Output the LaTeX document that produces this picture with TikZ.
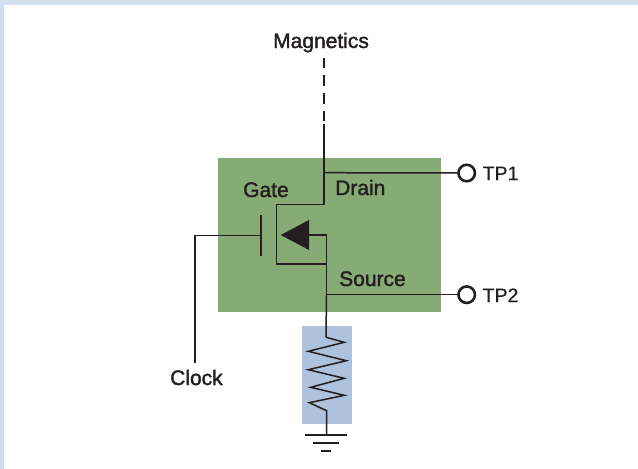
\documentclass[tikz,border=0pt]{standalone}
\usepackage{fontspec}
\setmainfont[FakeBold=0.4]{Liberation Sans}
\newfontfamily\medfont[FakeBold=1.6]{Liberation Sans}
\definecolor{ink}{HTML}{231F20}
\definecolor{frame}{HTML}{D2DFEE}
\definecolor{fet}{HTML}{87AB75}
\definecolor{res}{HTML}{AEC2DE}
\tikzset{
  wire/.style={draw=ink,line width=1.5pt},
  lbl/.style={text=ink,inner sep=0pt,anchor=base west,font=\medfont\fontsize{21}{24}\selectfont},
  tplbl/.style={text=ink,inner sep=0pt,anchor=base west,font=\fontsize{19.5}{24}\selectfont},
  tp/.style={circle,draw=ink,line width=2.6pt,fill=white,minimum size=16.5pt,inner sep=0pt},
  gnd/.style={draw=ink,line width=2.2pt}
}
\begin{document}
\begin{tikzpicture}[x=1pt,y=-1pt]
\useasboundingbox (0,0) rectangle (638,469);
\fill[white] (0,0) rectangle (638,469);
\fill[frame] (0,0) rectangle (638,5);
\fill[frame] (0,0) rectangle (4,469);
\fill[fet] (218,158) rectangle (441,312);
\fill[res] (302,326) rectangle (352,424);
\node[lbl] (magn) at (273,48) {Magnetics};
\node[lbl] (gate) at (243,197) {Gate};
\node[lbl] (drain) at (335,195) {Drain};
\node[lbl] (source) at (339,286) {Source};
\node[lbl] (clock) at (170,385) {Clock};
\node[tp] (tpa) at (466.7,173) {};
\node[tp] (tpb) at (466.7,294.7) {};
\node[tplbl] (tpal) at (482.5,180) {TP1};
\node[tplbl] (tpbl) at (482.5,302) {TP2};
\coordinate (dtop) at (324,57.5);
\coordinate (dend) at (324,122);
\coordinate (dsol) at (324,124);
\coordinate (dtap) at (324,172.7);
\coordinate (dknee) at (324,204.5);
\coordinate (chl) at (276.7,204.5);
\coordinate (chb) at (276.7,264);
\coordinate (stap) at (326.5,264);
\coordinate (sup) at (326.5,235);
\coordinate (tri) at (309,235);
\coordinate (stp) at (326.5,294.7);
\coordinate (rtop) at (326,337.3);
\coordinate (platet) at (261,215);
\coordinate (plateb) at (261,256);
\coordinate (gmid) at (261,235.3);
\coordinate (gknee) at (195,235.3);
\coordinate (gend) at (195,363);
\coordinate (rbot) at (326.7,410.7);
\coordinate (g1) at (326.7,435);
\draw[wire,dash pattern=on 10.8pt off 6.9pt] (dtop) -- (dend);
\draw[wire] (dsol) -- (dknee) -- (chl) -- (chb) -- (stap) -- (sup) -- (tri);
\draw[wire] (dtap) -- (tpa);
\draw[wire] (stap) -- (stp) -- (tpb);
\draw[wire] (stp) -- (rtop);
\draw[wire] (platet) -- (plateb);
\draw[wire] (gmid) -- (gknee) -- (gend);
\fill[ink] (280.7,235) -- (309,220) -- (309,250) -- cycle;
\draw[wire,line join=miter] (rtop) -- (344.3,342.3) -- (308.3,351.3) -- (346.3,360.7) -- (308.3,369.7) -- (344.3,378.3) -- (310.7,387.3) -- (344.3,395.3) -- (309.3,402.7) -- (rbot) -- (g1);
\draw[gnd] (305,435) -- (347,435);
\draw[gnd] (313,443) -- (339,443);
\draw[gnd] (321,451) -- (331,451);
\end{tikzpicture}
\end{document}
